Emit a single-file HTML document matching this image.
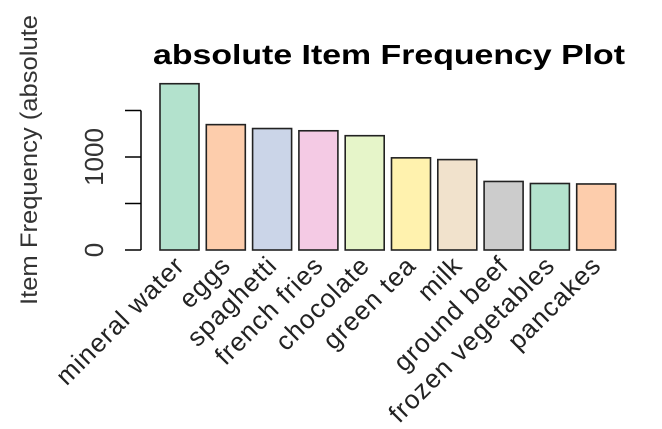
<!DOCTYPE html>
<html><head><meta charset="utf-8"><style>body{margin:0;background:#fff}svg{display:block}</style></head>
<body>
<svg id="c" width="662" height="429" xmlns="http://www.w3.org/2000/svg" font-family="Liberation Sans, sans-serif">
<rect width="662" height="429" fill="#fff"/>
<text x="153" y="64" font-size="28" font-weight="bold" textLength="472" lengthAdjust="spacingAndGlyphs" fill="#000">absolute Item Frequency Plot</text>
<text transform="translate(37,305) rotate(-90)" font-size="24" textLength="290" lengthAdjust="spacingAndGlyphs" fill="#333">Item Frequency (absolute</text>
<g id="axis"></g>
<g id="bars"></g>
<g id="labels"></g>
</svg>
<script>
const categories=["mineral water","eggs","spaghetti","french fries","chocolate","green tea","milk","ground beef","frozen vegetables","pancakes"];
const values=[1788,1348,1306,1282,1229,991,972,737,715,710];
const colors=["#B3E2CD","#FDCDAC","#CBD5E8","#F4CAE4","#E6F5C9","#FFF2AE","#F1E2CC","#CCCCCC","#B3E2CD","#FDCDAC"];
const ticks=[0,500,1000,1500];
const tickLabels=["0","","1000",""];
const NS="http://www.w3.org/2000/svg";
const y0=250,k=(250-157)/1000;
const y=v=>y0-v*k;
const x=i=>160+i*46.3;
function mk(t,a,p){const e=document.createElementNS(NS,t);for(const n in a)e.setAttribute(n,a[n]);p.appendChild(e);return e;}
const ax=document.getElementById('axis');
const l=mk('line',{x1:141,x2:141,y1:y(0),y2:y(1500),stroke:'#000','stroke-width':1.5},ax);


ticks.forEach((t,i)=>{
 const tl=mk('line',{x1:125,x2:141,y1:y(t),y2:y(t),stroke:'#000','stroke-width':1.5},ax);
 
 
 if(tickLabels[i]){
  const tx=mk('text',{transform:`translate(103,${y(t)}) rotate(-90)`,'text-anchor':'middle','font-size':26,fill:'#333'},ax);
  tx.textContent=tickLabels[i];
  
  
 }
});
const bg=document.getElementById('bars'),lg=document.getElementById('labels');
values.forEach((v,i)=>{
 const r=mk('rect',{x:x(i),y:y(v),width:39,height:y(0)-y(v),fill:colors[i],stroke:'#222','stroke-width':1.6},bg);
 
 
 const cx=x(i)+26;
 const t=mk('text',{transform:`translate(${cx},267) rotate(-45)`,'text-anchor':'end','font-size':26,'letter-spacing':1,fill:'#222'},lg);
 t.textContent=categories[i];
 
 
});
</script>
</body></html>
